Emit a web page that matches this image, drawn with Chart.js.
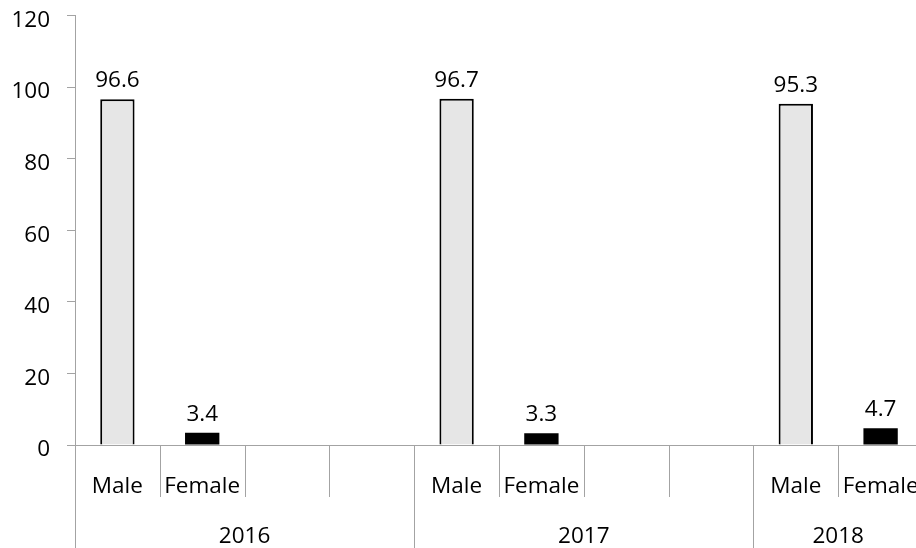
<!DOCTYPE html>
<html>
<head>
<meta charset="utf-8">
<script src="https://cdn.jsdelivr.net/npm/chart.js@4"></script>
<style>
  html, body { margin: 0; padding: 0; background: #ffffff; overflow: hidden; }
  #wrap { width: 940px; height: 548px; }
</style>
</head>
<body>
<div id="wrap"><canvas id="c" width="940" height="548"></canvas></div>
<script>
// Category slots along the x axis, grouped by year
const categories = ['Male', 'Female', '', '', 'Male', 'Female', '', '', 'Male', 'Female'];
const years = ['2016', '2017', '2018'];
const yearSpans = [4, 4, 2];

// Share (%) by gender for each year
const maleValues = [96.6, 96.7, 95.3];
const femaleValues = [3.4, 3.3, 4.7];

// Value axis ticks
const yTicks = [0, 20, 40, 60, 80, 100, 120];

const FONT = "'Open Sans', 'Liberation Sans', sans-serif";
const FONT_SIZE = 22.5;
const AXIS_GREY = '#a3a3a3';

// Put each year's value into the matching gender slot of that year's group
function seriesFor(values, label) {
  const out = categories.map(() => null);
  let start = 0;
  years.forEach((y, i) => {
    const idx = categories.indexOf(label, start);
    out[idx] = values[i];
    start += yearSpans[i];
  });
  return out;
}

// Two-level category labels with separators under the x axis
const multiLevelAxis = {
  id: 'multiLevelAxis',
  afterDraw(chart) {
    const { ctx, chartArea, scales: { x } } = chart;
    const slot = x.getPixelForValue(1) - x.getPixelForValue(0);
    const edge = i => x.getPixelForValue(i) - slot / 2;
    const axisY = chartArea.bottom;
    const groupStarts = new Set();
    let s = 0;
    yearSpans.forEach(n => { groupStarts.add(s); s += n; });
    groupStarts.add(s);

    ctx.save();
    ctx.strokeStyle = AXIS_GREY;
    ctx.lineWidth = 1;
    for (let i = 0; i <= categories.length; i++) {
      const px = Math.round(edge(i)) + 0.5;
      const bottom = groupStarts.has(i) ? chart.height : axisY + 52;
      ctx.beginPath();
      ctx.moveTo(px, axisY);
      ctx.lineTo(px, bottom);
      ctx.stroke();
    }

    ctx.fillStyle = '#000000';
    ctx.font = FONT_SIZE + 'px ' + FONT;
    ctx.textAlign = 'center';
    ctx.textBaseline = 'alphabetic';
    categories.forEach((c, i) => {
      if (c) ctx.fillText(c, x.getPixelForValue(i), axisY + 48);
    });

    let start = 0;
    years.forEach((yr, i) => {
      const cx = (edge(start) + edge(start + yearSpans[i])) / 2;
      ctx.fillText(yr, cx, axisY + 98);
      start += yearSpans[i];
    });
    ctx.restore();
  }
};

// Value labels above bars
const valueLabels = {
  id: 'valueLabels',
  afterDatasetsDraw(chart) {
    const { ctx } = chart;
    ctx.save();
    ctx.fillStyle = '#000000';
    ctx.font = FONT_SIZE + 'px ' + FONT;
    ctx.textAlign = 'center';
    ctx.textBaseline = 'alphabetic';
    chart.data.datasets.forEach((ds, di) => {
      chart.getDatasetMeta(di).data.forEach((bar, i) => {
        const v = ds.data[i];
        if (v === null || v === undefined) return;
        ctx.fillText(v.toFixed(1), bar.x, bar.y - 12);
      });
    });
    ctx.restore();
  }
};

new Chart(document.getElementById('c'), {
  type: 'bar',
  data: {
    labels: categories,
    datasets: [
      {
        label: 'Male',
        data: seriesFor(maleValues, 'Male'),
        backgroundColor: '#e6e6e6',
        borderColor: '#000000',
        borderWidth: 2
      },
      {
        label: 'Female',
        data: seriesFor(femaleValues, 'Female'),
        backgroundColor: '#000000',
        borderWidth: 0
      }
    ]
  },
  options: {
    responsive: false,
    devicePixelRatio: 1,
    animation: false,
    events: [],
    layout: { padding: { top: 15.4, right: 17, bottom: 0, left: 0 } },
    datasets: { bar: { grouped: false, categoryPercentage: 1, barPercentage: 0.405, skipNull: true } },
    plugins: { legend: { display: false }, tooltip: { enabled: false } },
    scales: {
      x: {
        grid: { display: false },
        border: { display: true, color: AXIS_GREY, width: 1 },
        ticks: { display: false },
        afterFit(scale) {
          scale.height = 103;
          scale.paddingLeft = 0;
          scale.paddingRight = 0;
        }
      },
      y: {
        min: 0,
        max: 120,
        afterBuildTicks(scale) { scale.ticks = yTicks.map(v => ({ value: v })); },
        grid: { drawOnChartArea: false, drawTicks: true, tickLength: 8, color: AXIS_GREY },
        border: { display: true, color: AXIS_GREY, width: 1 },
        ticks: {
          color: '#000000',
          font: { family: FONT, size: FONT_SIZE },
          padding: 17,
          labelOffset: 5
        },
        afterFit(scale) {
          scale.width = 75;
          scale.paddingTop = 0;
          scale.paddingBottom = 0;
        }
      }
    }
  },
  plugins: [multiLevelAxis, valueLabels]
});
</script>
</body>
</html>
